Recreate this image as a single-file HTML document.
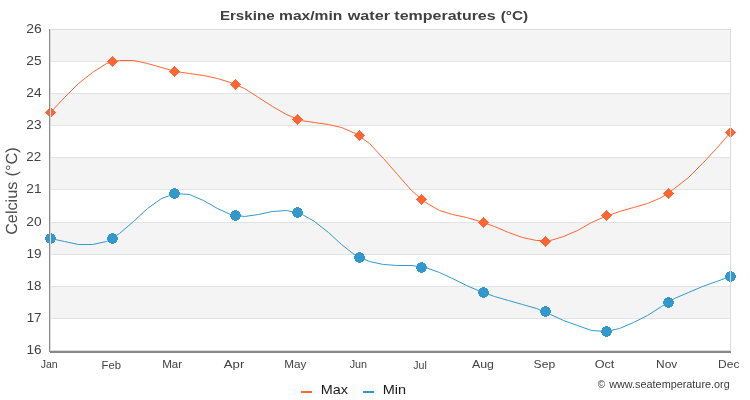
<!DOCTYPE html>
<html lang="en">
<head>
<meta charset="utf-8">
<title>Erskine max/min water temperatures (°C)</title>
<style>
html,body{margin:0;padding:0;background:#fff;}
body{width:750px;height:400px;overflow:hidden;}
svg{display:block;}
text{font-family:"Liberation Sans", sans-serif;}
</style>
</head>
<body>
<svg width="750" height="400" viewBox="0 0 750 400">
<rect x="0" y="0" width="750" height="400" fill="#ffffff"/>
<g shape-rendering="crispEdges">
<rect x="51" y="30" width="679" height="31" fill="#f4f4f4"/>
<rect x="51" y="94" width="679" height="31" fill="#f4f4f4"/>
<rect x="51" y="158" width="679" height="31" fill="#f4f4f4"/>
<rect x="51" y="223" width="679" height="31" fill="#f4f4f4"/>
<rect x="51" y="287" width="679" height="31" fill="#f4f4f4"/>
<rect x="51" y="29" width="680" height="1" fill="#e3e3e3"/>
<rect x="51" y="61" width="680" height="1" fill="#e3e3e3"/>
<rect x="51" y="93" width="680" height="1" fill="#e3e3e3"/>
<rect x="51" y="125" width="680" height="1" fill="#e3e3e3"/>
<rect x="51" y="157" width="680" height="1" fill="#e3e3e3"/>
<rect x="51" y="189" width="680" height="1" fill="#e3e3e3"/>
<rect x="51" y="222" width="680" height="1" fill="#e3e3e3"/>
<rect x="51" y="254" width="680" height="1" fill="#e3e3e3"/>
<rect x="51" y="286" width="680" height="1" fill="#e3e3e3"/>
<rect x="51" y="318" width="680" height="1" fill="#e3e3e3"/>
<rect x="51" y="350" width="680" height="1" fill="#e3e3e3"/>
</g>
<polyline points="50.5,112.5 64.5,97.5 78.5,83.5 92.5,72.5 106.5,63.5 119.5,60.5 133.5,60.5 147.5,63.5 161.5,67.5 175.5,71.5 189.5,73.5 203.5,75.5 217.5,78.5 230.5,82.5 244.5,88.5 258.5,97.5 272.5,106.5 286.5,114.5 300.5,120.5 314.5,122.5 328.5,124.5 341.5,127.5 355.5,133.5 369.5,143.5 383.5,158.5 397.5,174.5 411.5,190.5 425.5,202.5 439.5,210.5 452.5,214.5 466.5,217.5 480.5,221.5 494.5,226.5 508.5,232.5 522.5,237.5 536.5,240.5 550.5,240.5 563.5,236.5 577.5,230.5 591.5,222.5 605.5,216.5 619.5,211.5 633.5,207.5 647.5,203.5 661.5,197.5 674.5,188.5 688.5,177.5 702.5,163.5 716.5,148.5 730.5,132.5" fill="none" stroke="#ff6633" stroke-width="1" stroke-linejoin="round" stroke-linecap="round"/>
<g fill="#ff6633" shape-rendering="crispEdges">
<path d="M50 107h1v1h-1zM49 108h3v1h-3zM48 109h5v1h-5zM47 110h7v1h-7zM46 111h9v1h-9zM45 112h11v1h-11zM46 113h9v1h-9zM47 114h7v1h-7zM48 115h5v1h-5zM49 116h3v1h-3zM50 117h1v1h-1z"/>
<path d="M112 56h1v1h-1zM111 57h3v1h-3zM110 58h5v1h-5zM109 59h7v1h-7zM108 60h9v1h-9zM107 61h11v1h-11zM108 62h9v1h-9zM109 63h7v1h-7zM110 64h5v1h-5zM111 65h3v1h-3zM112 66h1v1h-1z"/>
<path d="M174 66h1v1h-1zM173 67h3v1h-3zM172 68h5v1h-5zM171 69h7v1h-7zM170 70h9v1h-9zM169 71h11v1h-11zM170 72h9v1h-9zM171 73h7v1h-7zM172 74h5v1h-5zM173 75h3v1h-3zM174 76h1v1h-1z"/>
<path d="M235 79h1v1h-1zM234 80h3v1h-3zM233 81h5v1h-5zM232 82h7v1h-7zM231 83h9v1h-9zM230 84h11v1h-11zM231 85h9v1h-9zM232 86h7v1h-7zM233 87h5v1h-5zM234 88h3v1h-3zM235 89h1v1h-1z"/>
<path d="M297 114h1v1h-1zM296 115h3v1h-3zM295 116h5v1h-5zM294 117h7v1h-7zM293 118h9v1h-9zM292 119h11v1h-11zM293 120h9v1h-9zM294 121h7v1h-7zM295 122h5v1h-5zM296 123h3v1h-3zM297 124h1v1h-1z"/>
<path d="M359 130h1v1h-1zM358 131h3v1h-3zM357 132h5v1h-5zM356 133h7v1h-7zM355 134h9v1h-9zM354 135h11v1h-11zM355 136h9v1h-9zM356 137h7v1h-7zM357 138h5v1h-5zM358 139h3v1h-3zM359 140h1v1h-1z"/>
<path d="M421 194h1v1h-1zM420 195h3v1h-3zM419 196h5v1h-5zM418 197h7v1h-7zM417 198h9v1h-9zM416 199h11v1h-11zM417 200h9v1h-9zM418 201h7v1h-7zM419 202h5v1h-5zM420 203h3v1h-3zM421 204h1v1h-1z"/>
<path d="M483 217h1v1h-1zM482 218h3v1h-3zM481 219h5v1h-5zM480 220h7v1h-7zM479 221h9v1h-9zM478 222h11v1h-11zM479 223h9v1h-9zM480 224h7v1h-7zM481 225h5v1h-5zM482 226h3v1h-3zM483 227h1v1h-1z"/>
<path d="M545 236h1v1h-1zM544 237h3v1h-3zM543 238h5v1h-5zM542 239h7v1h-7zM541 240h9v1h-9zM540 241h11v1h-11zM541 242h9v1h-9zM542 243h7v1h-7zM543 244h5v1h-5zM544 245h3v1h-3zM545 246h1v1h-1z"/>
<path d="M606 210h1v1h-1zM605 211h3v1h-3zM604 212h5v1h-5zM603 213h7v1h-7zM602 214h9v1h-9zM601 215h11v1h-11zM602 216h9v1h-9zM603 217h7v1h-7zM604 218h5v1h-5zM605 219h3v1h-3zM606 220h1v1h-1z"/>
<path d="M668 188h1v1h-1zM667 189h3v1h-3zM666 190h5v1h-5zM665 191h7v1h-7zM664 192h9v1h-9zM663 193h11v1h-11zM664 194h9v1h-9zM665 195h7v1h-7zM666 196h5v1h-5zM667 197h3v1h-3zM668 198h1v1h-1z"/>
<path d="M730 127h1v1h-1zM729 128h3v1h-3zM728 129h5v1h-5zM727 130h7v1h-7zM726 131h9v1h-9zM725 132h11v1h-11zM726 133h9v1h-9zM727 134h7v1h-7zM728 135h5v1h-5zM729 136h3v1h-3zM730 137h1v1h-1z"/>
</g>
<polyline points="50.5,238.5 64.5,241.5 78.5,244.5 92.5,244.5 106.5,241.5 119.5,233.5 133.5,221.5 147.5,208.5 161.5,198.5 175.5,193.5 189.5,194.5 203.5,200.5 217.5,208.5 230.5,214.5 244.5,216.5 258.5,214.5 272.5,211.5 286.5,210.5 300.5,213.5 314.5,221.5 328.5,232.5 341.5,244.5 355.5,255.5 369.5,261.5 383.5,264.5 397.5,265.5 411.5,265.5 425.5,267.5 439.5,272.5 452.5,278.5 466.5,285.5 480.5,291.5 494.5,296.5 508.5,300.5 522.5,304.5 536.5,308.5 550.5,314.5 563.5,320.5 577.5,325.5 591.5,330.5 605.5,331.5 619.5,328.5 633.5,322.5 647.5,315.5 661.5,306.5 674.5,298.5 688.5,292.5 702.5,286.5 716.5,281.5 730.5,276.5" fill="none" stroke="#3399cc" stroke-width="1" stroke-linejoin="round" stroke-linecap="round"/>
<g fill="#3399cc" shape-rendering="crispEdges">
<path d="M49 233h3v1h-3zM47 234h7v1h-7zM46 235h9v1h-9zM46 236h9v1h-9zM45 237h11v1h-11zM45 238h11v1h-11zM45 239h11v1h-11zM46 240h9v1h-9zM46 241h9v1h-9zM47 242h7v1h-7zM49 243h3v1h-3z"/>
<path d="M111 233h3v1h-3zM109 234h7v1h-7zM108 235h9v1h-9zM108 236h9v1h-9zM107 237h11v1h-11zM107 238h11v1h-11zM107 239h11v1h-11zM108 240h9v1h-9zM108 241h9v1h-9zM109 242h7v1h-7zM111 243h3v1h-3z"/>
<path d="M173 188h3v1h-3zM171 189h7v1h-7zM170 190h9v1h-9zM170 191h9v1h-9zM169 192h11v1h-11zM169 193h11v1h-11zM169 194h11v1h-11zM170 195h9v1h-9zM170 196h9v1h-9zM171 197h7v1h-7zM173 198h3v1h-3z"/>
<path d="M234 210h3v1h-3zM232 211h7v1h-7zM231 212h9v1h-9zM231 213h9v1h-9zM230 214h11v1h-11zM230 215h11v1h-11zM230 216h11v1h-11zM231 217h9v1h-9zM231 218h9v1h-9zM232 219h7v1h-7zM234 220h3v1h-3z"/>
<path d="M296 207h3v1h-3zM294 208h7v1h-7zM293 209h9v1h-9zM293 210h9v1h-9zM292 211h11v1h-11zM292 212h11v1h-11zM292 213h11v1h-11zM293 214h9v1h-9zM293 215h9v1h-9zM294 216h7v1h-7zM296 217h3v1h-3z"/>
<path d="M358 252h3v1h-3zM356 253h7v1h-7zM355 254h9v1h-9zM355 255h9v1h-9zM354 256h11v1h-11zM354 257h11v1h-11zM354 258h11v1h-11zM355 259h9v1h-9zM355 260h9v1h-9zM356 261h7v1h-7zM358 262h3v1h-3z"/>
<path d="M420 262h3v1h-3zM418 263h7v1h-7zM417 264h9v1h-9zM417 265h9v1h-9zM416 266h11v1h-11zM416 267h11v1h-11zM416 268h11v1h-11zM417 269h9v1h-9zM417 270h9v1h-9zM418 271h7v1h-7zM420 272h3v1h-3z"/>
<path d="M482 287h3v1h-3zM480 288h7v1h-7zM479 289h9v1h-9zM479 290h9v1h-9zM478 291h11v1h-11zM478 292h11v1h-11zM478 293h11v1h-11zM479 294h9v1h-9zM479 295h9v1h-9zM480 296h7v1h-7zM482 297h3v1h-3z"/>
<path d="M544 306h3v1h-3zM542 307h7v1h-7zM541 308h9v1h-9zM541 309h9v1h-9zM540 310h11v1h-11zM540 311h11v1h-11zM540 312h11v1h-11zM541 313h9v1h-9zM541 314h9v1h-9zM542 315h7v1h-7zM544 316h3v1h-3z"/>
<path d="M605 326h3v1h-3zM603 327h7v1h-7zM602 328h9v1h-9zM602 329h9v1h-9zM601 330h11v1h-11zM601 331h11v1h-11zM601 332h11v1h-11zM602 333h9v1h-9zM602 334h9v1h-9zM603 335h7v1h-7zM605 336h3v1h-3z"/>
<path d="M667 297h3v1h-3zM665 298h7v1h-7zM664 299h9v1h-9zM664 300h9v1h-9zM663 301h11v1h-11zM663 302h11v1h-11zM663 303h11v1h-11zM664 304h9v1h-9zM664 305h9v1h-9zM665 306h7v1h-7zM667 307h3v1h-3z"/>
<path d="M729 271h3v1h-3zM727 272h7v1h-7zM726 273h9v1h-9zM726 274h9v1h-9zM725 275h11v1h-11zM725 276h11v1h-11zM725 277h11v1h-11zM726 278h9v1h-9zM726 279h9v1h-9zM727 280h7v1h-7zM729 281h3v1h-3z"/>
</g>
<g shape-rendering="crispEdges">
<rect x="50" y="29" width="681" height="1" fill="#dbdbdb"/>
<rect x="50" y="350" width="681" height="1" fill="#dbdbdb"/>
<rect x="50" y="29" width="1" height="322" fill="#dbdbdb"/>
<rect x="730" y="29" width="1" height="322" fill="#dbdbdb"/>
<rect x="49" y="29" width="1" height="323" fill="#8a8a8a"/>
<rect x="50" y="351" width="681" height="2" fill="#888888"/>
</g>
<g opacity="0.999" style="will-change:transform">
<text y="20.00" font-size="13.50px" fill="#414141" font-weight="bold"><tspan x="219.90" textLength="54.68" lengthAdjust="spacingAndGlyphs">Erskine</tspan> <tspan x="279.08" textLength="63.23" lengthAdjust="spacingAndGlyphs">max/min</tspan> <tspan x="347.69" textLength="42.34" lengthAdjust="spacingAndGlyphs">water</tspan> <tspan x="394.34" textLength="101.35" lengthAdjust="spacingAndGlyphs">temperatures</tspan> <tspan x="500.70" textLength="27.48" lengthAdjust="spacingAndGlyphs">(°C)</tspan></text>
<text y="33.00" font-size="13.50px" fill="#424242" x="26.27" textLength="15.51" lengthAdjust="spacingAndGlyphs">26</text>
<text y="65.00" font-size="13.50px" fill="#424242" x="26.28" textLength="15.25" lengthAdjust="spacingAndGlyphs">25</text>
<text y="97.00" font-size="13.50px" fill="#424242" x="26.26" textLength="15.27" lengthAdjust="spacingAndGlyphs">24</text>
<text y="129.00" font-size="13.50px" fill="#424242" x="26.29" textLength="15.21" lengthAdjust="spacingAndGlyphs">23</text>
<text y="161.00" font-size="13.50px" fill="#424242" x="26.30" textLength="14.98" lengthAdjust="spacingAndGlyphs">22</text>
<text y="193.00" font-size="13.50px" fill="#424242" x="26.29" textLength="15.26" lengthAdjust="spacingAndGlyphs">21</text>
<text y="226.00" font-size="13.50px" fill="#424242" x="26.28" textLength="15.25" lengthAdjust="spacingAndGlyphs">20</text>
<text y="258.00" font-size="13.50px" fill="#424242" x="26.58" textLength="15.06" lengthAdjust="spacingAndGlyphs">19</text>
<text y="290.00" font-size="13.50px" fill="#424242" x="26.61" textLength="14.95" lengthAdjust="spacingAndGlyphs">18</text>
<text y="322.00" font-size="13.50px" fill="#424242" x="26.66" textLength="14.94" lengthAdjust="spacingAndGlyphs">17</text>
<text y="354.00" font-size="13.50px" fill="#424242" x="26.58" textLength="15.06" lengthAdjust="spacingAndGlyphs">16</text>
<text y="368.00" font-size="11.00px" fill="#424242" x="40.71" textLength="16.98" lengthAdjust="spacingAndGlyphs">Jan</text>
<text y="369.00" font-size="11.00px" fill="#424242" x="101.48" textLength="19.50" lengthAdjust="spacingAndGlyphs">Feb</text>
<text y="368.00" font-size="11.00px" fill="#424242" x="162.19" textLength="19.94" lengthAdjust="spacingAndGlyphs">Mar</text>
<text y="368.00" font-size="11.00px" fill="#424242" x="223.82" textLength="20.45" lengthAdjust="spacingAndGlyphs">Apr</text>
<text y="368.00" font-size="11.00px" fill="#424242" x="284.17" textLength="22.14" lengthAdjust="spacingAndGlyphs">May</text>
<text y="368.00" font-size="11.00px" fill="#424242" x="349.64" textLength="17.35" lengthAdjust="spacingAndGlyphs">Jun</text>
<text y="369.00" font-size="11.00px" fill="#424242" x="413.27" textLength="13.56" lengthAdjust="spacingAndGlyphs">Jul</text>
<text y="368.00" font-size="11.00px" fill="#424242" x="472.00" textLength="21.97" lengthAdjust="spacingAndGlyphs">Aug</text>
<text y="368.00" font-size="11.00px" fill="#424242" x="533.62" textLength="21.52" lengthAdjust="spacingAndGlyphs">Sep</text>
<text y="368.00" font-size="11.00px" fill="#424242" x="594.67" textLength="19.66" lengthAdjust="spacingAndGlyphs">Oct</text>
<text y="368.00" font-size="11.00px" fill="#424242" x="656.07" textLength="21.16" lengthAdjust="spacingAndGlyphs">Nov</text>
<text y="368.00" font-size="11.00px" fill="#424242" x="718.07" textLength="21.35" lengthAdjust="spacingAndGlyphs">Dec</text>
<text transform="translate(17.00,0) rotate(-90)" font-size="16.00px" fill="#4f4f4f" style="text-rendering:geometricPrecision"><tspan x="-234.85" textLength="53.19" lengthAdjust="spacingAndGlyphs">Celcius</tspan> <tspan x="-176.46" textLength="29.10" lengthAdjust="spacingAndGlyphs">(°C)</tspan></text>
<g shape-rendering="crispEdges"><rect x="301" y="391" width="11" height="2" fill="#ff6633"/><rect x="363" y="391" width="11" height="2" fill="#3399cc"/></g>
<text y="394.00" font-size="13.50px" fill="#1c1c1c" x="320.69" textLength="27.27" lengthAdjust="spacingAndGlyphs">Max</text>
<text y="394.00" font-size="13.50px" fill="#1c1c1c" x="382.72" textLength="23.36" lengthAdjust="spacingAndGlyphs">Min</text>
<text y="388.00" font-size="10.00px" fill="#3a3a3a"><tspan x="597.81" textLength="7.33" lengthAdjust="spacingAndGlyphs">©</tspan> <tspan x="609.23" textLength="120.50" lengthAdjust="spacingAndGlyphs">www.seatemperature.org</tspan></text>
</g>
</svg>
</body>
</html>
